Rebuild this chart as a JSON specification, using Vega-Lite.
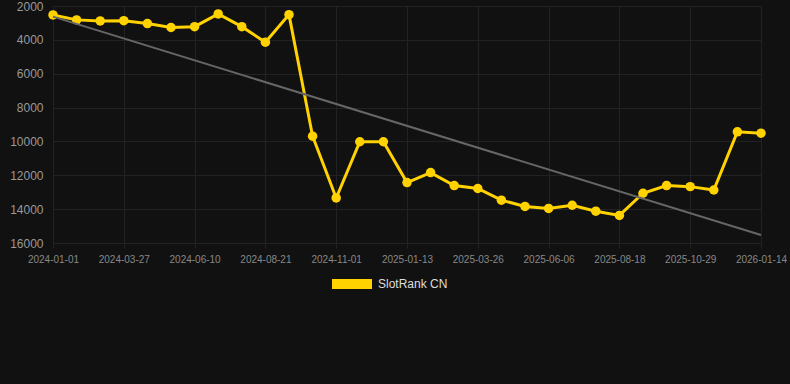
{
  "$schema": "https://vega.github.io/schema/vega-lite/v6.json",
  "autosize": "none",
  "width": 745,
  "height": 237,
  "padding": {"left": 45, "top": 6, "right": 0, "bottom": 141},
  "background": "#111111",
  "config": {
    "view": {"stroke": null},
    "font": "Liberation Sans"
  },
  "datasets": {
    "rank": [
      {"date": "2024-01-01", "rank": 2530, "series": "SlotRank CN"},
      {"date": "2024-01-30", "rank": 2820, "series": "SlotRank CN"},
      {"date": "2024-02-28", "rank": 2880, "series": "SlotRank CN"},
      {"date": "2024-03-27", "rank": 2870, "series": "SlotRank CN"},
      {"date": "2024-04-21", "rank": 3040, "series": "SlotRank CN"},
      {"date": "2024-05-16", "rank": 3270, "series": "SlotRank CN"},
      {"date": "2024-06-10", "rank": 3220, "series": "SlotRank CN"},
      {"date": "2024-07-04", "rank": 2470, "series": "SlotRank CN"},
      {"date": "2024-07-28", "rank": 3220, "series": "SlotRank CN"},
      {"date": "2024-08-21", "rank": 4140, "series": "SlotRank CN"},
      {"date": "2024-09-14", "rank": 2510, "series": "SlotRank CN"},
      {"date": "2024-10-08", "rank": 9690, "series": "SlotRank CN"},
      {"date": "2024-11-01", "rank": 13340, "series": "SlotRank CN"},
      {"date": "2024-11-25", "rank": 10020, "series": "SlotRank CN"},
      {"date": "2024-12-19", "rank": 10020, "series": "SlotRank CN"},
      {"date": "2025-01-13", "rank": 12430, "series": "SlotRank CN"},
      {"date": "2025-02-06", "rank": 11840, "series": "SlotRank CN"},
      {"date": "2025-03-02", "rank": 12610, "series": "SlotRank CN"},
      {"date": "2025-03-26", "rank": 12780, "series": "SlotRank CN"},
      {"date": "2025-04-19", "rank": 13470, "series": "SlotRank CN"},
      {"date": "2025-05-13", "rank": 13840, "series": "SlotRank CN"},
      {"date": "2025-06-06", "rank": 13960, "series": "SlotRank CN"},
      {"date": "2025-06-30", "rank": 13770, "series": "SlotRank CN"},
      {"date": "2025-07-25", "rank": 14120, "series": "SlotRank CN"},
      {"date": "2025-08-18", "rank": 14370, "series": "SlotRank CN"},
      {"date": "2025-09-11", "rank": 13060, "series": "SlotRank CN"},
      {"date": "2025-10-05", "rank": 12610, "series": "SlotRank CN"},
      {"date": "2025-10-29", "rank": 12670, "series": "SlotRank CN"},
      {"date": "2025-11-24", "rank": 12870, "series": "SlotRank CN"},
      {"date": "2025-12-19", "rank": 9430, "series": "SlotRank CN"},
      {"date": "2026-01-14", "rank": 9510, "series": "SlotRank CN"}
    ],
    "trend": [
      {"date": "2024-01-01", "rank": 2630},
      {"date": "2026-01-14", "rank": 15530}
    ]
  },
  "encoding": {
    "x": {
      "field": "date",
      "type": "ordinal",
      "sort": "ascending",
      "scale": {"type": "point", "range": [8, 716], "padding": 0},
      "axis": {
        "title": null,
        "values": ["2024-01-01", "2024-03-27", "2024-06-10", "2024-08-21", "2024-11-01", "2025-01-13", "2025-03-26", "2025-06-06", "2025-08-18", "2025-10-29", "2026-01-14"],
        "labelAngle": 0,
        "labelFontSize": 10,
        "labelColor": "#888888",
        "labelPadding": 6,
        "domain": false,
        "ticks": true,
        "tickColor": "#222222",
        "tickSize": 5,
        "grid": true,
        "gridColor": "#222222",
        "gridWidth": 1
      }
    },
    "y": {
      "field": "rank",
      "type": "quantitative",
      "scale": {"domain": [2000, 16000], "reverse": true, "nice": false, "zero": false},
      "axis": {
        "title": null,
        "values": [2000, 4000, 6000, 8000, 10000, 12000, 14000, 16000],
        "format": "d",
        "labelFontSize": 12,
        "labelColor": "#999999",
        "labelPadding": 2,
        "domain": false,
        "ticks": false,
        "grid": true,
        "gridColor": "#222222",
        "gridWidth": 1
      }
    }
  },
  "layer": [
    {
      "data": {"name": "rank"},
      "mark": {"type": "line", "strokeWidth": 3, "point": {"filled": true, "size": 90}},
      "encoding": {
        "color": {
          "field": "series",
          "type": "nominal",
          "scale": {"range": ["#FFD200"]},
          "legend": {
            "title": null,
            "orient": "none",
            "legendX": 287,
            "legendY": 258,
            "symbolType": "M-1,-0.25H1V0.25H-1Z",
            "symbolSize": 1600,
            "symbolFillColor": "#FFD200",
            "symbolStrokeWidth": 0,
            "labelColor": "#dddddd",
            "labelFontSize": 12,
            "labelOffset": 6
          }
        }
      }
    },
    {
      "data": {"name": "trend"},
      "mark": {"type": "line", "strokeWidth": 2, "color": "#666666"},
      "encoding": {}
    }
  ]
}
